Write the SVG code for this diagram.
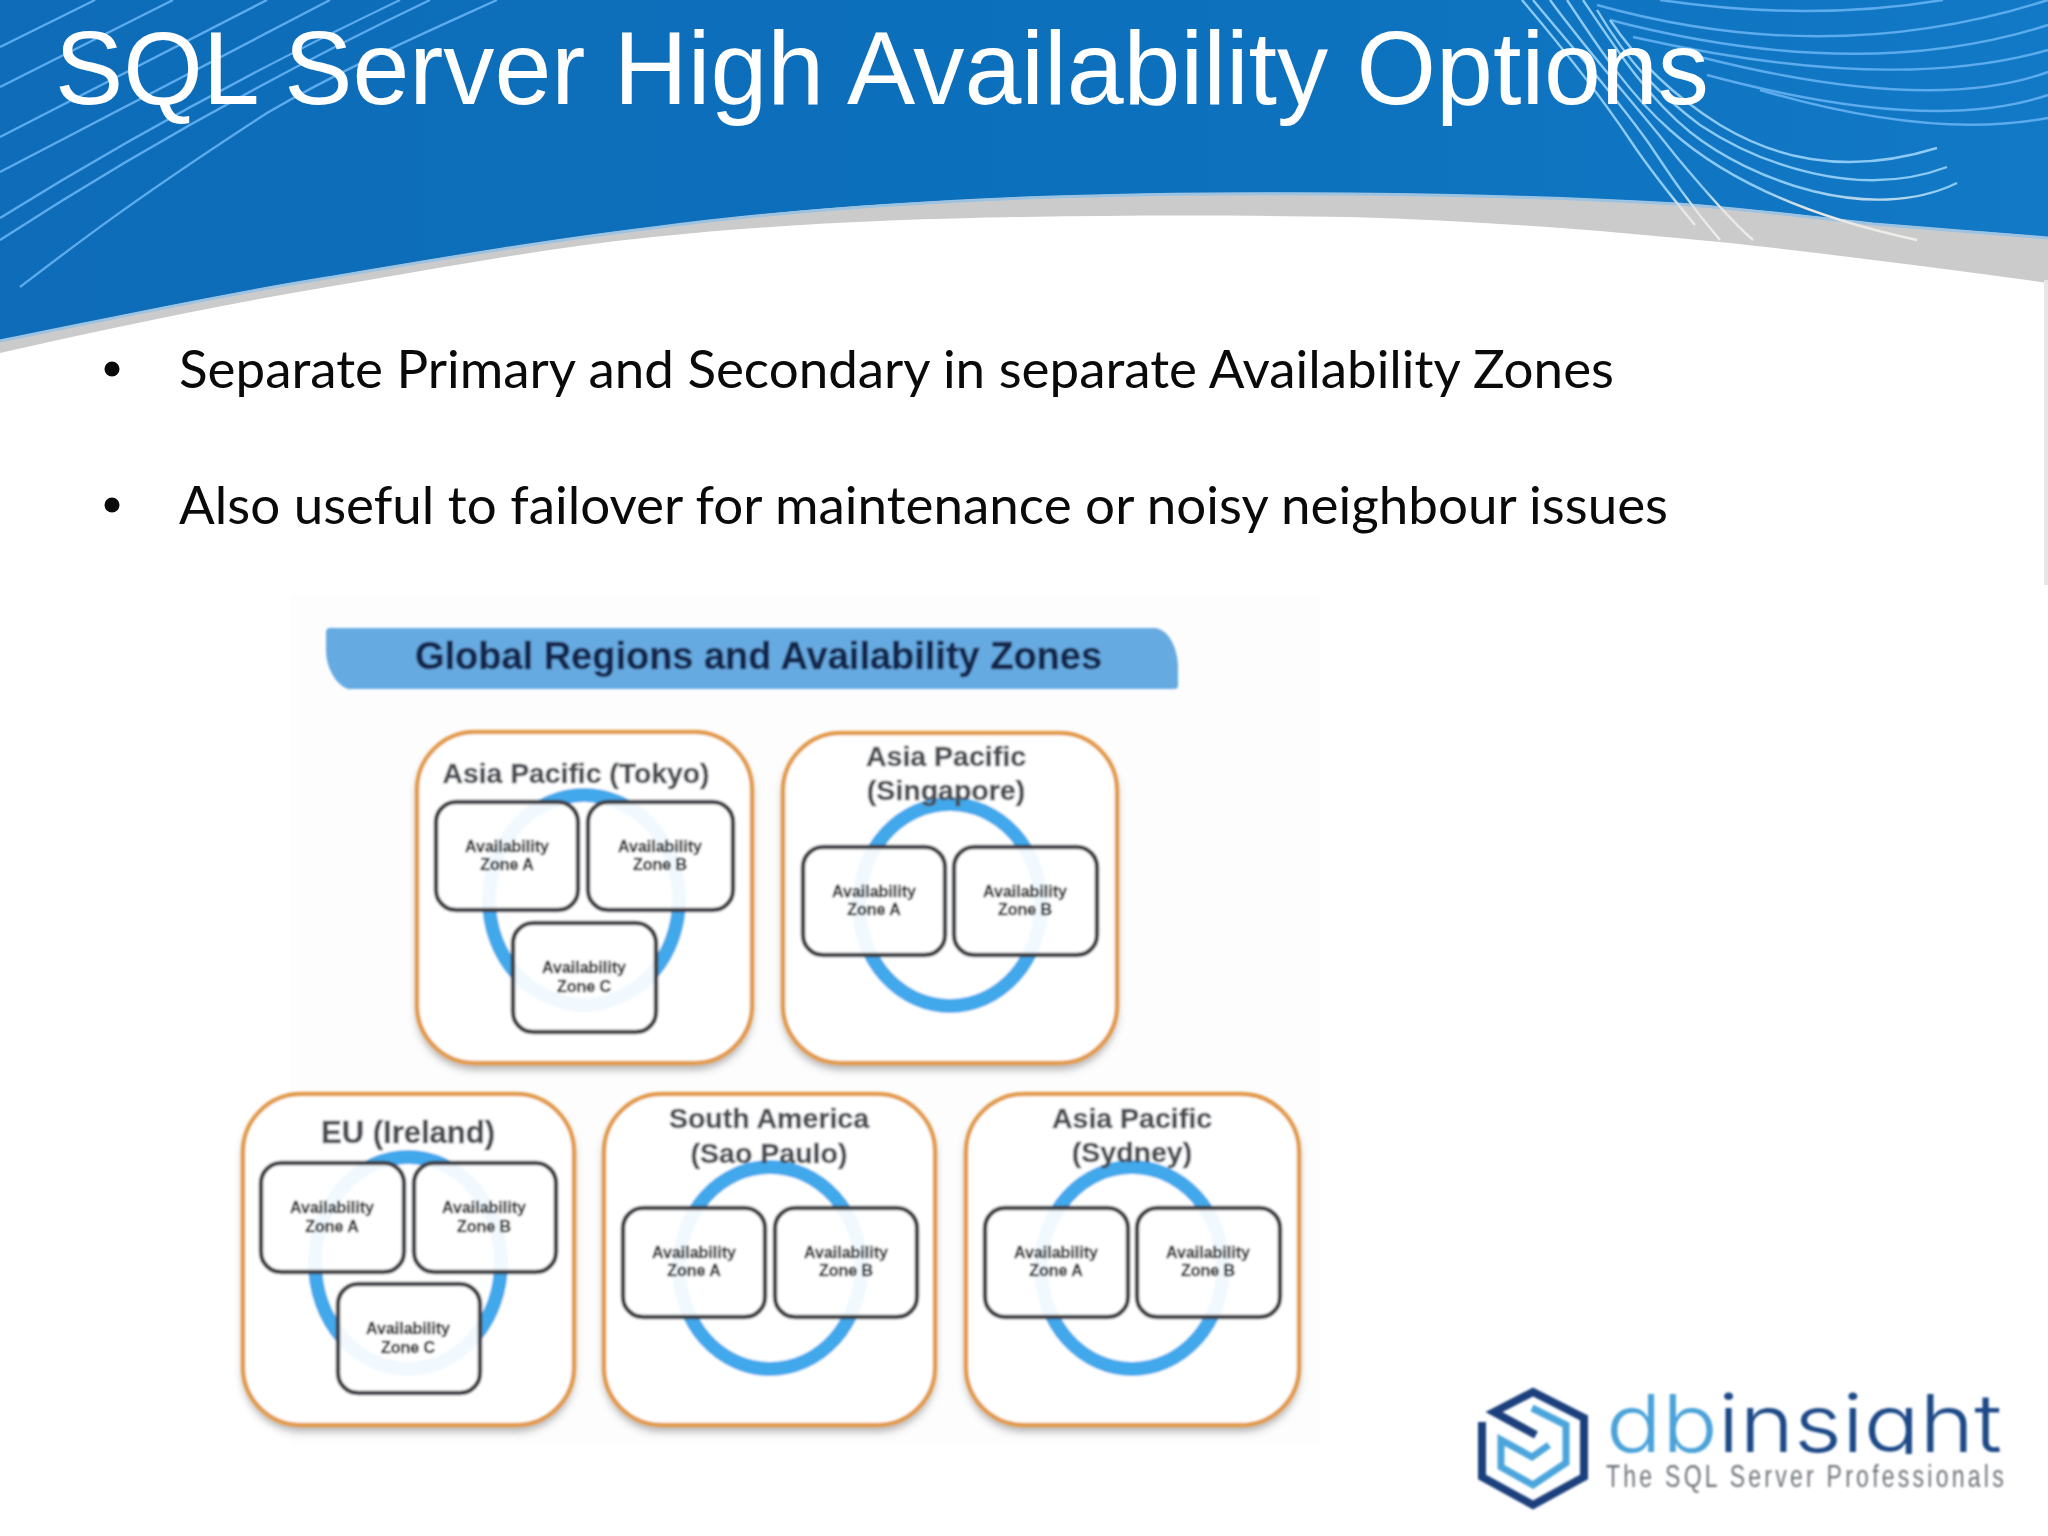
<svg xmlns="http://www.w3.org/2000/svg" width="2048" height="1536" viewBox="0 0 2048 1536">
<style>
.region{fill:#fff;stroke:#e39b4b;stroke-width:4.5}
.shadow{fill:#7d7d7d;opacity:.65;filter:url(#b4)}
.ring{fill:none;stroke:#42a8ec;stroke-width:14}
.zone{fill:#fff;fill-opacity:.93;stroke:#3f4144;stroke-width:4.5}
.rt{font-family:"Liberation Sans",Arial,sans-serif;font-weight:700;fill:#4b4e52;stroke:#4b4e52;stroke-width:.5;font-size:28.5px;text-anchor:middle}
.zt{font-family:"Liberation Sans",Arial,sans-serif;font-weight:700;fill:#2e2f31;stroke:#2e2f31;stroke-width:.35;font-size:16px;text-anchor:middle}
.body{font-family:Lato,"Noto Sans",sans-serif;font-size:52px;fill:#0a0a0a}
.ln{fill:none;stroke:#5cabec;stroke-width:2.4}
.fan{fill:none;stroke:url(#fang);stroke-width:2.4}
</style>
<defs>
<filter id="b1" x="-5%" y="-5%" width="110%" height="110%"><feGaussianBlur stdDeviation="0.9"/></filter>
<filter id="b05" x="-5%" y="-5%" width="110%" height="110%"><feGaussianBlur stdDeviation="0.6"/></filter>
<filter id="b4" x="-10%" y="-10%" width="120%" height="120%"><feGaussianBlur stdDeviation="4"/></filter>
<linearGradient id="ban" x1="0" x2="1" y1="0" y2="0"><stop offset="0" stop-color="#0e6cb8"/><stop offset=".55" stop-color="#0c70bc"/><stop offset="1" stop-color="#1279c6"/></linearGradient>
<linearGradient id="fang" gradientUnits="userSpaceOnUse" x1="0" y1="0" x2="0" y2="250"><stop offset="0" stop-color="#8ccaf4"/><stop offset=".76" stop-color="#8ccaf4"/><stop offset=".84" stop-color="#e8e6e2"/><stop offset="1" stop-color="#f2f1ee"/></linearGradient>
<clipPath id="nodesc"><rect x="1590" y="1380" width="430" height="74"/></clipPath>
</defs>
<rect width="2048" height="1536" fill="#fff"/>
<rect x="290" y="595" width="1030" height="850" fill="#fdfdfe"/>
<g id="banner">
<path d="M0,353 C110,328 220,305 327,287 C440,268 545,248 653,237 C780,224 900,219 1024,217 C1130,215 1240,215 1350,217 C1460,220 1570,228 1677,238 C1745,244 1810,252 1873,260 C1930,267 1990,275 2048,283 V180 H0 Z" fill="#cbcbcc" filter="url(#b05)"/>
<path d="M0,340 C110,318 220,294 327,277 C440,258 545,240 653,227 C780,210 900,202 1024,197 C1130,193 1240,192 1350,193 C1460,194 1570,197 1677,203 C1745,208 1810,216 1873,223 C1930,228 1990,232 2048,237 V0 H0 Z" fill="url(#ban)"/>
<path d="M0,341 C110,319 220,295 327,278 C440,259 545,241 653,228 C780,211 900,203 1024,198 C1130,194 1240,193 1350,194 C1460,195 1570,198 1677,204 C1745,209 1810,217 1873,224 C1930,229 1990,233 2048,238" fill="none" stroke="#9cc3e2" stroke-width="3" filter="url(#b05)"/>
<g class="lines" filter="url(#b05)">
<path class="ln" d="M0,47 L95,0"/>
<path class="ln" d="M0,87 L173,0"/>
<path class="ln" d="M0,137 L267,0"/>
<path class="ln" d="M0,172 L330,0"/>
<path class="ln" d="M0,218 Q190,100 400,0"/>
<path class="ln" d="M0,240 Q200,110 430,0"/>
<path class="ln" d="M20,287 C75,245 133,200 267,113 C340,70 420,35 497,0"/>
<path class="ln" d="M1660,0 Q1810,22 1943,0"/>
<path class="ln" d="M1597,5 Q1830,70 2048,0"/>
<path class="ln" d="M1610,20 Q1860,85 2048,25"/>
<path class="ln" d="M1633,37 Q1890,95 2048,50"/>
<path class="ln" d="M1700,57 Q1930,115 2048,72"/>
<path class="ln" d="M1707,75 Q1930,135 2048,95"/>
<path class="ln" d="M1760,90 Q1930,140 2048,118"/>
<path class="fan" d="M1610,20 C1640,65 1680,100 1720,125 C1770,155 1840,178 1937,148"/>
<path class="fan" d="M1597,10 C1630,65 1660,95 1700,125 C1760,165 1860,200 1947,167"/>
<path class="fan" d="M1583,0 C1620,55 1650,100 1690,132 C1750,180 1870,225 1957,183"/>
<path class="fan" d="M1567,0 C1600,50 1630,95 1670,130 C1720,175 1800,215 1917,240"/>
<path class="fan" d="M1550,0 C1590,55 1640,110 1675,155 C1700,185 1730,220 1753,240"/>
<path class="fan" d="M1533,0 C1570,45 1615,95 1650,145 C1670,175 1690,205 1720,240"/>
<path class="fan" d="M1522,0 C1560,45 1600,95 1630,140 C1650,170 1670,195 1695,225"/>
</g>
<text x="55" y="104" font-family="'Liberation Sans',Arial,sans-serif" font-size="104" fill="#fff" textLength="1654" lengthAdjust="spacingAndGlyphs">SQL Server High Availability Options</text>
</g>
<rect x="2044" y="280" width="4" height="305" fill="#e6e6e8"/>
<g id="bullets">
<circle cx="112" cy="369" r="7.5" fill="#0a0a0a"/>
<text class="body" x="179" y="388" textLength="1435" lengthAdjust="spacingAndGlyphs">Separate Primary and Secondary in separate Availability Zones</text>
<circle cx="112" cy="505" r="7.5" fill="#0a0a0a"/>
<text class="body" x="179" y="524" textLength="1489" lengthAdjust="spacingAndGlyphs">Also useful to failover for maintenance or noisy neighbour issues</text>
</g>
<g id="diagram" filter="url(#b1)">
<g id="heading">
<path d="M330,628 H1155 C1170,630 1178,650 1178,668 V686 Q1178,689 1174,689 H348 C336,685 326,668 326,650 V632 Q326,628 330,628 Z" fill="#66aae2"/>
<text x="415" y="669" font-family="'Liberation Sans',Arial,sans-serif" font-weight="700" font-size="38" fill="#17284c" stroke="#17284c" stroke-width=".5" textLength="687" lengthAdjust="spacingAndGlyphs">Global Regions and Availability Zones</text>
</g>
<g id="region-tokyo">
<rect class="shadow" x="417" y="738" width="335" height="331" rx="58"/>
<rect class="region" x="417" y="732" width="335" height="331" rx="58"/>
<ellipse class="ring" cx="584" cy="900" rx="95" ry="105"/>
<text class="rt" x="576" y="783" textLength="267" lengthAdjust="spacingAndGlyphs">Asia Pacific (Tokyo)</text>
<g id="tokyo-a"><rect class="zone" x="436" y="802" width="142" height="108" rx="20"/><text class="zt" x="507" y="852">Availability</text><text class="zt" x="507" y="870">Zone A</text></g>
<g id="tokyo-b"><rect class="zone" x="588" y="802" width="145" height="108" rx="20"/><text class="zt" x="660" y="852">Availability</text><text class="zt" x="660" y="870">Zone B</text></g>
<g id="tokyo-c"><rect class="zone" x="513" y="923" width="143" height="109" rx="20"/><text class="zt" x="584" y="973">Availability</text><text class="zt" x="584" y="992">Zone C</text></g>
</g>
<g id="region-singapore">
<rect class="shadow" x="783" y="739" width="334" height="330" rx="58"/>
<rect class="region" x="783" y="733" width="334" height="330" rx="58"/>
<ellipse class="ring" cx="950" cy="905" rx="91" ry="101"/>
<text class="rt" x="946" y="766">Asia Pacific</text>
<text class="rt" x="946" y="800">(Singapore)</text>
<g id="singapore-a"><rect class="zone" x="803" y="847" width="142" height="108" rx="20"/><text class="zt" x="874" y="897">Availability</text><text class="zt" x="874" y="915">Zone A</text></g>
<g id="singapore-b"><rect class="zone" x="954" y="847" width="143" height="108" rx="20"/><text class="zt" x="1025" y="897">Availability</text><text class="zt" x="1025" y="915">Zone B</text></g>
</g>
<g id="region-ireland">
<rect class="shadow" x="243" y="1100" width="331" height="331" rx="58"/>
<rect class="region" x="243" y="1094" width="331" height="331" rx="58"/>
<ellipse class="ring" cx="408" cy="1263" rx="93" ry="106"/>
<text class="rt" x="408" y="1143" style="font-size:31px">EU (Ireland)</text>
<g id="ireland-a"><rect class="zone" x="261" y="1163" width="143" height="109" rx="20"/><text class="zt" x="332" y="1213">Availability</text><text class="zt" x="332" y="1232">Zone A</text></g>
<g id="ireland-b"><rect class="zone" x="414" y="1163" width="142" height="109" rx="20"/><text class="zt" x="484" y="1213">Availability</text><text class="zt" x="484" y="1232">Zone B</text></g>
<g id="ireland-c"><rect class="zone" x="338" y="1284" width="142" height="109" rx="20"/><text class="zt" x="408" y="1334">Availability</text><text class="zt" x="408" y="1353">Zone C</text></g>
</g>
<g id="region-saopaulo">
<rect class="shadow" x="604" y="1100" width="331" height="331" rx="58"/>
<rect class="region" x="604" y="1094" width="331" height="331" rx="58"/>
<ellipse class="ring" cx="770" cy="1268" rx="91" ry="101"/>
<text class="rt" x="769" y="1128">South America</text>
<text class="rt" x="769" y="1163">(Sao Paulo)</text>
<g id="saopaulo-a"><rect class="zone" x="623" y="1208" width="142" height="109" rx="20"/><text class="zt" x="694" y="1258">Availability</text><text class="zt" x="694" y="1276">Zone A</text></g>
<g id="saopaulo-b"><rect class="zone" x="775" y="1208" width="142" height="109" rx="20"/><text class="zt" x="846" y="1258">Availability</text><text class="zt" x="846" y="1276">Zone B</text></g>
</g>
<g id="region-sydney">
<rect class="shadow" x="966" y="1100" width="333" height="331" rx="58"/>
<rect class="region" x="966" y="1094" width="333" height="331" rx="58"/>
<ellipse class="ring" cx="1132" cy="1268" rx="91" ry="101"/>
<text class="rt" x="1132" y="1128">Asia Pacific</text>
<text class="rt" x="1132" y="1162">(Sydney)</text>
<g id="sydney-a"><rect class="zone" x="985" y="1208" width="143" height="109" rx="20"/><text class="zt" x="1056" y="1258">Availability</text><text class="zt" x="1056" y="1276">Zone A</text></g>
<g id="sydney-b"><rect class="zone" x="1137" y="1208" width="143" height="109" rx="20"/><text class="zt" x="1208" y="1258">Availability</text><text class="zt" x="1208" y="1276">Zone B</text></g>
</g>
</g>
<g id="logo" filter="url(#b1)">
<path d="M1482,1422 V1477 L1533,1505 L1584,1477 V1418 L1533,1392 L1494,1412 L1536,1435" fill="none" stroke="#1e3f7d" stroke-width="8"/>
<path d="M1532,1408 L1566,1425 V1463 L1533,1485 L1501,1467 V1440 L1532,1457 L1549,1445" fill="none" stroke="#4ba5dc" stroke-width="7"/>
<text x="1606" y="1452" clip-path="url(#nodesc)" font-family="Inter,sans-serif" font-weight="300" font-size="80" fill="#1f4a87" textLength="396" lengthAdjust="spacingAndGlyphs"><tspan fill="#4ba3d9">db</tspan>insight</text>
<text transform="translate(1606,1487) scale(.72,1)" x="0" y="0" font-family="'Liberation Sans',sans-serif" font-size="32" letter-spacing="4.5" fill="#70757a">The SQL Server Professionals</text>
</g>
<g id="connectors"/>
</svg>
